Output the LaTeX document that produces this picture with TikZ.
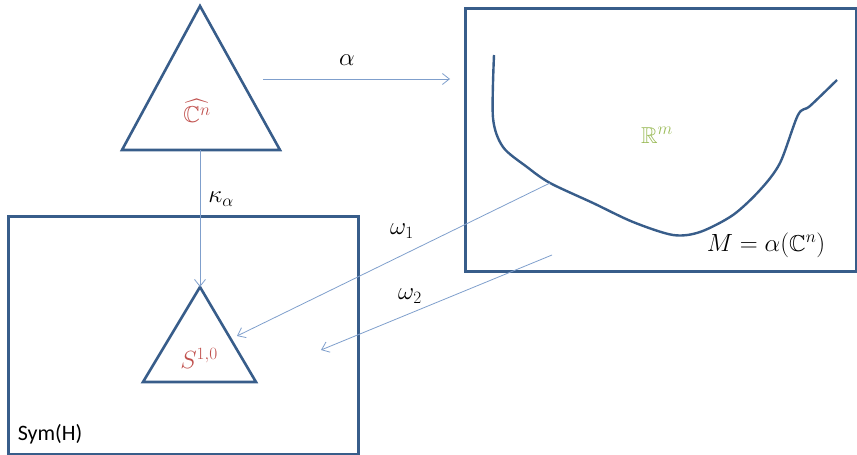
\documentclass[tikz,border=0pt]{standalone}
\usepackage{amssymb}
\usepackage{fontspec}
\setsansfont{Carlito}
\usetikzlibrary{arrows.meta}
\definecolor{shapeblue}{HTML}{385D8A}
\definecolor{mapblue}{HTML}{7F9FCC}
\definecolor{labelred}{HTML}{C0504D}
\definecolor{labelgreen}{HTML}{9BBB59}

\begin{document}
\begin{tikzpicture}[
  x=1pt,y=-1pt,
  >={Straight Barb[length=7pt,width=11pt]},
  outline/.style={draw=shapeblue,line width=2.6pt},
  box/.style={outline,rectangle,inner sep=0pt,anchor=north west},
  map/.style={->,draw=mapblue,line width=0.8pt},
  lbl/.style={font=\fontsize{23}{27}\selectfont}
]
  \useasboundingbox (0,0) rectangle (857,455);

  % the two spaces
  \node[box,minimum width=350pt,minimum height=238pt] (sym) at (7,215) {};
  \node[box,minimum width=391pt,minimum height=263pt] (rm) at (464,7) {};

  % triangles
  \coordinate (cntop) at (200,6);
  \coordinate (cnleft) at (122,150);
  \coordinate (cnright) at (280,150);
  \coordinate (cnbase) at (200,150);
  \draw[outline] (cntop) -- (cnleft) -- (cnright) -- cycle;
  \coordinate (stop) at (200,287);
  \coordinate (sleft) at (143,382);
  \coordinate (sright) at (256,382);
  \draw[outline] (stop) -- (sleft) -- (sright) -- cycle;
  \node[lbl,text=labelred] (cnlabel) at (197,111) {$\widehat{\mathbb{C}^n}$};
  \node[lbl,text=labelred] (s10label) at (199,358) {$S^{1,0}$};

  % the manifold M
  \draw[shapeblue,line width=2.4pt,line join=round] plot[smooth,tension=0.5] coordinates {
    (494,55) (493,118) (503,147) (527,167) (550,183) (593,203) (633,222)
    (673,235) (700,232) (733,215) (760,190) (780,163) (798,115) (810,106) (837,80)};
  \coordinate (hit) at (550,183);
  \node[lbl,text=labelgreen] (rmlabel) at (657,135) {$\mathbb{R}^m$};
  \node[lbl] (mlabel) at (766,245) {$M=\alpha(\mathbb{C}^n)$};
  \node[font=\sffamily\fontsize{22}{26}\selectfont] (symlabel) at (50,434) {Sym(H)};

  % maps
  \coordinate (a0) at (263,79);
  \coordinate (a1) at (450,79);
  \coordinate (w2s) at (552,255);
  \coordinate (w2e) at (321,350);
  \coordinate (w1e) at (237,336);
  \draw[map] (a0) -- (a1);
  \node[lbl] (alpha) at (347,60) {$\alpha$};
  \draw[map] (cnbase) -- (stop);
  \node[lbl] (kappa) at (221,199) {$\kappa_\alpha$};
  \draw[map] (hit) -- (w1e);
  \draw[map] (w2s) -- (w2e);
  \node[lbl] (omega1) at (402,231) {$\omega_1$};
  \node[lbl] (omega2) at (410,296) {$\omega_2$};
\end{tikzpicture}
\end{document}
